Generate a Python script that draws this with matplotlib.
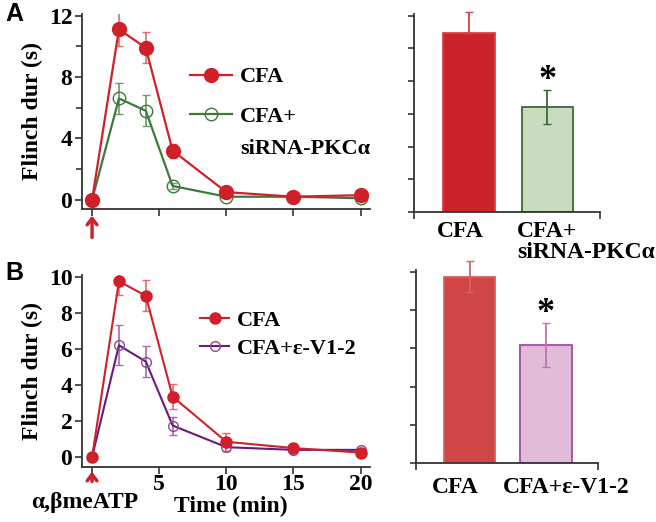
import numpy as np
import matplotlib.pyplot as plt

# time course data (min, s)
t = [0, 2, 4, 6, 10, 15, 20]

cfa_a = [0, 11.1, 9.9, 3.2, 0.5, 0.2, 0.3]
cfa_a_err = [0, 1.1, 1.0, 0.45, 0.15, 0.1, 0.1]
sirna = [0, 6.6, 5.8, 0.9, 0.2, 0.2, 0.1]
sirna_err = [0, 1.0, 1.0, 0.2, 0.1, 0.1, 0.1]

cfa_b = [0, 9.75, 8.95, 3.35, 0.85, 0.5, 0.25]
cfa_b_err = [0, 0.75, 0.85, 0.7, 0.5, 0.12, 0.1]
ev12 = [0, 6.2, 5.3, 1.75, 0.55, 0.4, 0.4]
ev12_err = [0, 1.1, 0.85, 0.5, 0.2, 0.12, 0.12]

# summary bars
bar_a_labels = ['CFA', 'CFA+\nsiRNA-PKC\u03b1']
bar_a_vals = [10.95, 6.4]
bar_a_err = [1.25, 1.05]
bar_b_labels = ['CFA', 'CFA+\u03b5-V1-2']
bar_b_vals = [9.75, 6.2]
bar_b_err = [0.8, 1.15]

red = '#d0202a'
red_err = '#e06a6a'
green = '#3d7a3a'
purple = '#6a1a7a'
purple_err = '#a86ab0'
axcol = '#333333'

plt.rcParams['font.family'] = 'Liberation Serif'
plt.rcParams['font.weight'] = 'bold'
plt.rcParams['axes.labelweight'] = 'bold'

W, H = 656, 522
fig = plt.figure(figsize=(W / 100, H / 100), dpi=100)


def px_axes(x0, y0, x1, y1):
    return fig.add_axes([x0 / W, 1 - y1 / H, (x1 - x0) / W, (y1 - y0) / H])


def style(ax):
    for s in ['top', 'right']:
        ax.spines[s].set_visible(False)
    for s in ['left', 'bottom']:
        ax.spines[s].set_color(axcol)
        ax.spines[s].set_linewidth(1.3)
    ax.tick_params(direction='out', length=5, width=1.2, color=axcol,
                   labelsize=17, pad=2)


# ---- A, time course
ax1 = px_axes(82, 14, 370, 209)
ax1.errorbar(t, cfa_a, yerr=cfa_a_err, fmt='none', ecolor=red_err,
             capsize=3, elinewidth=1.2, zorder=2)
ax1.errorbar(t, sirna, yerr=sirna_err, fmt='none', ecolor='#6a9a66',
             capsize=3, elinewidth=1.2, zorder=1)
ax1.plot(t, cfa_a, color=red, lw=1.6, marker='o', ms=10, label='CFA', zorder=4)
ax1.plot(t, sirna, color=green, lw=1.6, marker='o', ms=9, mfc='none',
         mec=green, label='CFA+', zorder=3)
ax1.set_xlim(-0.75, 20.7)
ax1.set_ylim(-0.6, 12.1)
ax1.set_yticks([0, 4, 8, 12])
ax1.set_yticks([2, 6, 10], minor=True)
ax1.set_xticks([0, 5, 10, 15, 20])
ax1.set_xticklabels([])
style(ax1)
ax1.tick_params(which='minor', direction='out', length=4, width=1.2, color=axcol)
ax1.set_ylabel('Flinch dur (s)', fontsize=17, labelpad=4)
ax1.annotate('', xy=(0, -0.02), xycoords=('data', 'axes fraction'),
             xytext=(0, -0.16), textcoords=('data', 'axes fraction'),
             arrowprops=dict(arrowstyle='->,head_width=0.35,head_length=0.45',
                             color=red, lw=2.5))
ax1.legend(loc='center left', bbox_to_anchor=(0.375, 0.575), frameon=False,
           fontsize=16, handlelength=1.9, labelspacing=0.85,
           handletextpad=0.35, borderpad=0, borderaxespad=0)
ax1.text(0.549, 0.31, 'siRNA-PKC\u03b1', transform=ax1.transAxes,
         fontsize=16, ha='left', va='center')

# ---- B, time course
ax2 = px_axes(82, 275, 370, 467)
ax2.errorbar(t, cfa_b, yerr=cfa_b_err, fmt='none', ecolor=red_err,
             capsize=3, elinewidth=1.2, zorder=2)
ax2.errorbar(t, ev12, yerr=ev12_err, fmt='none', ecolor=purple_err,
             capsize=3, elinewidth=1.2, zorder=1)
ax2.plot(t, cfa_b, color=red, lw=1.5, marker='o', ms=8, label='CFA', zorder=4)
ax2.plot(t, ev12, color=purple, lw=1.5, marker='o', ms=7, mfc='none',
         mec='#8a4a9a', label='CFA+\u03b5-V1-2', zorder=3)
ax2.set_xlim(-0.75, 20.7)
ax2.set_ylim(-0.55, 10.1)
ax2.set_yticks([0, 2, 4, 6, 8, 10])
ax2.set_xticks([0, 5, 10, 15, 20])
ax2.set_xticklabels(['', '5', '10', '15', '20'])
style(ax2)
ax2.tick_params(axis='x', pad=0)
ax2.set_ylabel('Flinch dur (s)', fontsize=17, labelpad=4)
ax2.set_xlabel('Time (min)', fontsize=17)
ax2.xaxis.set_label_coords(0.517, -0.15)
ax2.annotate('', xy=(0, -0.01), xycoords=('data', 'axes fraction'),
             xytext=(0, -0.09), textcoords=('data', 'axes fraction'),
             arrowprops=dict(arrowstyle='->,head_width=0.35,head_length=0.45',
                             color=red, lw=2.5))
ax2.text(0.01, -0.185, '\u03b1,\u03b2meATP', transform=ax2.transAxes,
         fontsize=17, ha='center', va='center')
ax2.legend(loc='center left', bbox_to_anchor=(0.41, 0.69), frameon=False,
           fontsize=16, handlelength=1.3, labelspacing=0.35,
           handletextpad=0.35, borderpad=0, borderaxespad=0)

# ---- A, bars
ax3 = px_axes(414, 14, 600, 212)
ax3.bar([0, 1], bar_a_vals, width=0.66, color=['#cc2229', '#c8dcc0'],
        edgecolor=['#d84048', '#3a6b35'], linewidth=1.3)
ax3.errorbar([0], bar_a_vals[:1], yerr=[[0], bar_a_err[:1]], fmt='none',
             ecolor='#d04048', elinewidth=1.3, capsize=3, clip_on=False)
ax3.errorbar([1], bar_a_vals[1:], yerr=bar_a_err[1:], fmt='none',
             ecolor='#3a6b35', elinewidth=1.3, capsize=3)
ax3.text(1, bar_a_vals[1] + bar_a_err[1] + 0.05, '*', fontsize=26,
         ha='center', va='baseline')
ax3.set_xlim(-0.7, 1.67)
ax3.set_ylim(0, 12.1)
ax3.set_yticks([0, 2, 4, 6, 8, 10, 12])
ax3.set_yticklabels([])
ax3.set_xticks([-0.7, 1.67])
ax3.set_xticklabels([])
style(ax3)
ax3.tick_params(axis='y', length=4)
tr3 = ax3.get_xaxis_transform()
ax3.text(-0.11, -0.045, bar_a_labels[0], transform=tr3, fontsize=17,
         ha='center', va='top')
ax3.text(0.61, -0.045, bar_a_labels[1], transform=tr3, fontsize=17,
         ha='left', va='top', linespacing=1.0)

# ---- B, bars
ax4 = px_axes(416, 270, 598, 463)
ax4.bar([0, 1], bar_b_vals, width=0.67, color=['#d04545', '#e0bcd8'],
        edgecolor=['#d86060', '#a848a8'], linewidth=1.3)
ax4.errorbar([0], bar_b_vals[:1], yerr=bar_b_err[:1], fmt='none',
             ecolor='#d86060', elinewidth=1.3, capsize=3, clip_on=False)
ax4.errorbar([1], bar_b_vals[1:], yerr=bar_b_err[1:], fmt='none',
             ecolor='#c070b8', elinewidth=1.3, capsize=3)
ax4.text(1, bar_b_vals[1] + bar_b_err[1] + 0.05, '*', fontsize=26,
         ha='center', va='baseline')
ax4.set_xlim(-0.7, 1.68)
ax4.set_ylim(0, 10.1)
ax4.set_yticks([0, 2, 4, 6, 8, 10])
ax4.set_yticklabels([])
ax4.set_xticks([-0.7, 1.68])
ax4.set_xticklabels([])
style(ax4)
ax4.tick_params(axis='y', length=4)
tr4 = ax4.get_xaxis_transform()
ax4.text(-0.19, -0.07, bar_b_labels[0], transform=tr4, fontsize=17,
         ha='center', va='top')
ax4.text(1.27, -0.07, bar_b_labels[1], transform=tr4, fontsize=17,
         ha='center', va='top')

fig.text(14 / W, 1 - 14 / H, 'A', fontsize=18, fontweight='bold',
         family='Liberation Sans', ha='center', va='center')
fig.text(14 / W, 1 - 273 / H, 'B', fontsize=18, fontweight='bold',
         family='Liberation Sans', ha='center', va='center')

fig.savefig('out.png', dpi=100)
